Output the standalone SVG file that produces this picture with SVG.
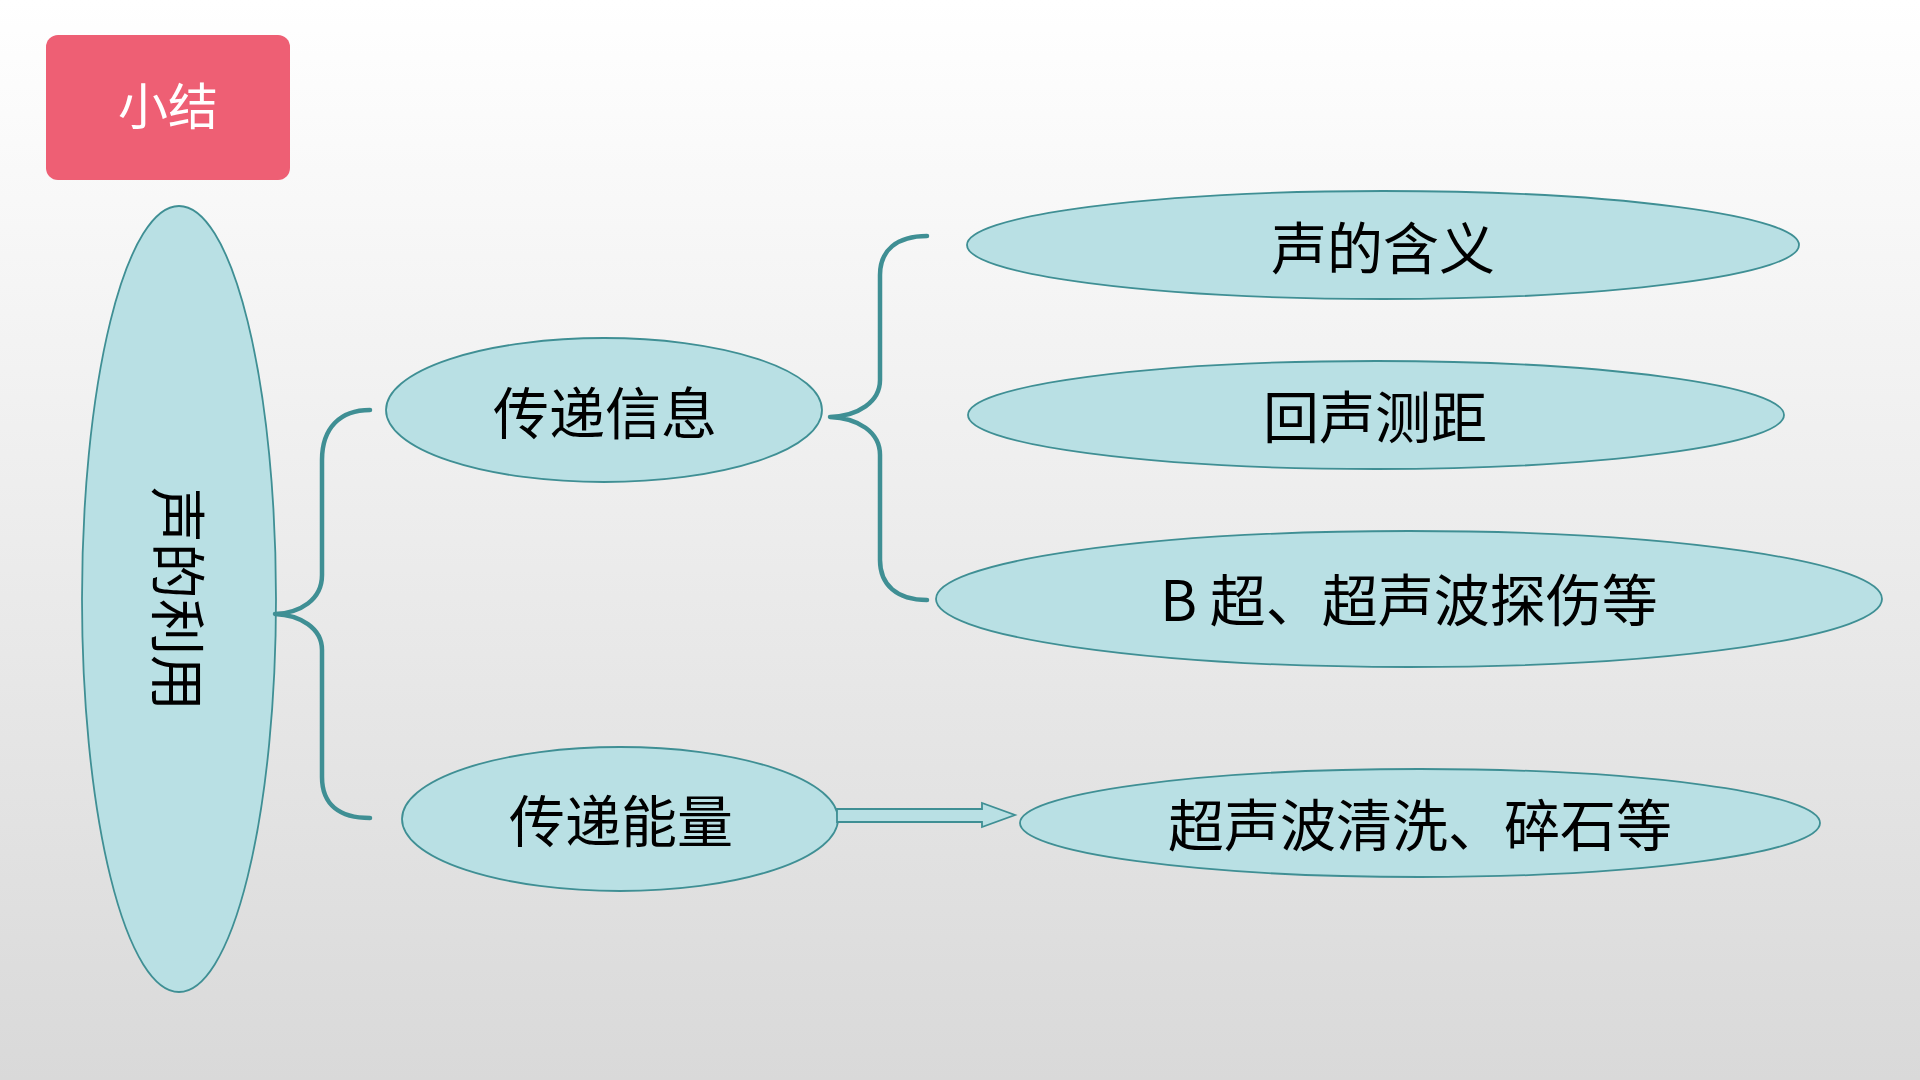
<svg xmlns="http://www.w3.org/2000/svg" width="1920" height="1080" viewBox="0 0 1920 1080">
<defs>
<linearGradient id="bg" x1="0" y1="0" x2="0" y2="1">
<stop offset="0" stop-color="#FFFFFF"/>
<stop offset="1" stop-color="#D9D9D9"/>
</linearGradient>
<style>
.node{fill:#B9E0E4;stroke:#3F8F94;stroke-width:1.8}
.t{font-family:"Noto Sans CJK SC","Noto Sans",sans-serif;font-size:56px;fill:#000;text-anchor:middle}
.brace{fill:none;stroke:#3F8F94;stroke-width:4.5;stroke-linecap:round;stroke-linejoin:round}
</style>
</defs>
<rect x="0" y="0" width="1920" height="1080" fill="url(#bg)"/>
<g id="title">
<rect x="46" y="35" width="244" height="145" rx="12" fill="#EE5F74"/>
<text x="168" y="125" font-family="Noto Sans CJK SC,Noto Sans,sans-serif" font-size="50" fill="#FFFFFF" text-anchor="middle">小结</text>
</g>
<g id="root">
<ellipse class="node" cx="179" cy="599" rx="97" ry="393"/>
<text class="t" x="178" y="620" transform="rotate(90 178 599)">声的利用</text>
</g>
<g id="info">
<ellipse class="node" cx="604" cy="410" rx="218" ry="72"/>
<text class="t" x="605" y="434">传递信息</text>
</g>
<g id="energy">
<ellipse class="node" cx="620" cy="819" rx="218" ry="72"/>
<text class="t" x="621" y="842">传递能量</text>
</g>
<g id="meaning">
<ellipse class="node" cx="1383" cy="245" rx="416" ry="54"/>
<text class="t" x="1383" y="269">声的含义</text>
</g>
<g id="echo">
<ellipse class="node" cx="1376" cy="415" rx="408" ry="54"/>
<text class="t" x="1375" y="438">回声测距</text>
</g>
<g id="bscan">
<ellipse class="node" cx="1409" cy="599" rx="473" ry="68"/>
<text class="t" x="1409" y="621">B 超、超声波探伤等</text>
</g>
<g id="clean">
<ellipse class="node" cx="1420" cy="823" rx="400" ry="54"/>
<text class="t" x="1420" y="846">超声波清洗、碎石等</text>
</g>
<g id="connectors">
<path class="brace" d="M370 410 C340 410 322 428 322 460 L322 575 C322 600 300 613 275 614 C300 615 322 628 322 650 L322 777 C322 805 340 818 370 818"/>
<path class="brace" d="M927 236 C897 236 880 250 880 275 L880 380 C880 402 858 416 830 417 C858 418 880 432 880 455 L880 560 C880 585 897 600 927 600"/>
<path d="M837 809 L982 809 L982 803 L1015 815 L982 827 L982 822 L837 822 Z" fill="#B9E0E4" stroke="#3F8F94" stroke-width="1.8" stroke-linejoin="miter"/>
</g>
</svg>
